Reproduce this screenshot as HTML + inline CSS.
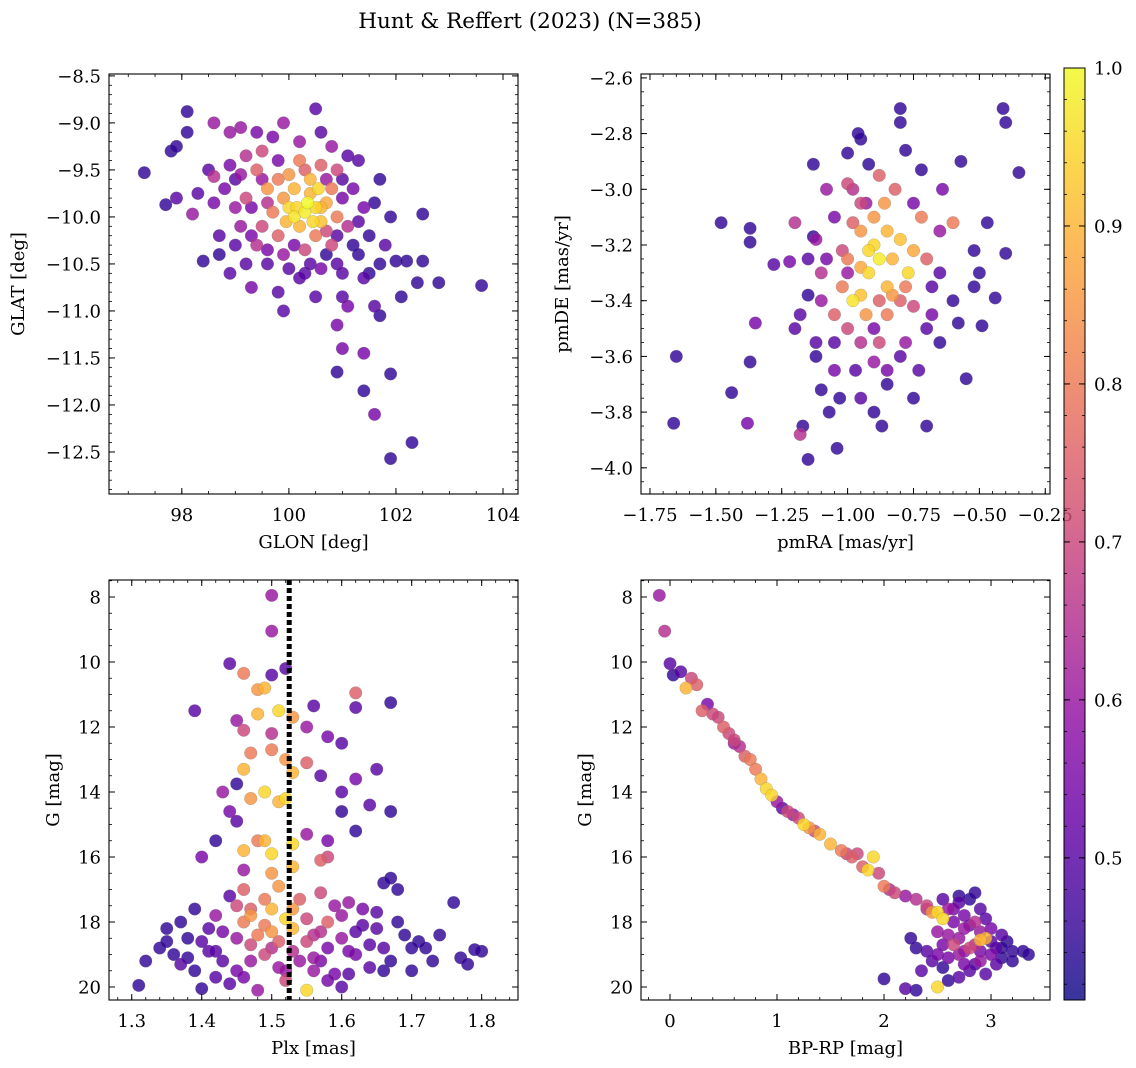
<!DOCTYPE html>
<html><head><meta charset="utf-8">
<style>
html,body{margin:0;padding:0;background:#fff;}
svg{display:block;font-family:"DejaVu Serif","Liberation Serif",serif;}
</style></head>
<body>
<svg id="fig" width="1136" height="1068" viewBox="0 0 1136 1068" xmlns="http://www.w3.org/2000/svg">
<defs>
<linearGradient id="plasma" x1="0" y1="1" x2="0" y2="0">
<stop offset="0" stop-color="#0d0887"/><stop offset="0.1" stop-color="#41049d"/><stop offset="0.2" stop-color="#6a00a8"/><stop offset="0.3" stop-color="#8f0da4"/><stop offset="0.4" stop-color="#b12a90"/><stop offset="0.5" stop-color="#cc4778"/><stop offset="0.6" stop-color="#e16462"/><stop offset="0.7" stop-color="#f2844b"/><stop offset="0.8" stop-color="#fca636"/><stop offset="0.9" stop-color="#fcce25"/><stop offset="1" stop-color="#f0f921"/>
</linearGradient>
</defs>
<text x="530" y="28" text-anchor="middle" font-size="21.5">Hunt &amp; Reffert (2023) (N=385)</text>
</svg>
<script>
// ---- data ----
const p1_glon=[97.3,97.8,98.1,98.1,97.9,97.7,98.2,97.9,98.4,98.3,98.6,98.7,98.6,98.9,99.1,99.4,99.7,99.9,100.5,100.6,101.3,101.7,101.9,102.0,102.2,102.5,102.5,102.4,102.8,103.6,102.1,101.6,101.7,101.5,101.4,101.0,101.1,100.9,101.0,100.9,101.4,101.6,101.9,101.9,102.3,101.4,99.9,99.8,99.3,98.9,99.2,100.5,100.3,100.0,99.6,100.7,101.2,101.5,101.8,101.3,101.6,101.0,101.1,100.0,100.3,100.5,100.4,100.1,100.6,99.9,100.2,100.7,100.4,100.0,99.6,99.7,100.8,100.9,100.5,99.8,99.4,99.5,100.2,100.6,100.9,99.2,99.1,99.0,99.4,100.8,101.1,100.3,99.9,100.6,100.9,99.5,98.9,99.2,98.8,98.7,99.0,100.2,100.8,101.2,101.4,100.1,100.35,100.55,99.95,
99.5,99.8,100.7,101.0,100.9,100.4,100.1,99.6,99.3,99.0,99.6,100.3,100.7,101.3,101.7,99.8,100.6,100.15,100.45,98.5,98.6,99.3,101.0,100.2,99.1];
const p1_glat=[-9.53,-9.3,-8.88,-9.1,-9.25,-9.87,-9.97,-9.8,-10.47,-9.75,-9.0,-10.4,-9.57,-9.1,-9.05,-9.1,-9.15,-9.0,-8.85,-9.1,-9.4,-9.6,-10.0,-10.47,-10.47,-9.97,-10.47,-10.7,-10.7,-10.73,-10.85,-10.95,-11.05,-10.6,-10.65,-10.85,-10.95,-11.15,-11.4,-11.65,-11.85,-12.1,-11.67,-12.57,-12.4,-11.45,-11.0,-10.8,-10.75,-10.6,-10.5,-10.85,-10.6,-10.55,-10.35,-10.4,-10.3,-10.2,-10.3,-10.05,-9.85,-9.6,-9.35,-9.9,-9.95,-9.9,-9.75,-9.7,-10.05,-9.8,-10.1,-9.85,-9.6,-9.55,-9.7,-9.95,-9.7,-10.0,-10.2,-10.2,-9.5,-9.3,-9.4,-9.45,-9.5,-9.8,-10.1,-9.9,-10.3,-10.3,-10.1,-10.35,-10.4,-10.55,-10.5,-10.1,-9.45,-9.35,-9.7,-10.2,-10.3,-9.2,-9.25,-9.7,-9.9,-10.0,-9.85,-9.7,-10.05,
-9.6,-9.4,-9.6,-9.8,-10.2,-10.5,-10.3,-10.5,-10.2,-9.6,-9.85,-9.5,-10.15,-10.4,-10.5,-9.6,-9.9,-9.9,-10.05,-9.5,-9.85,-9.9,-10.6,-10.65,-9.55];
const p1_prob=[.45,.45,.45,.45,.45,.45,.6,.5,.45,.5,.6,.45,.65,.6,.6,.55,.55,.6,.5,.5,.5,.45,.45,.45,.45,.45,.45,.45,.45,.45,.45,.5,.45,.45,.5,.5,.55,.55,.55,.45,.45,.55,.45,.45,.45,.55,.5,.5,.55,.5,.5,.5,.5,.5,.55,.45,.45,.45,.5,.5,.45,.5,.5,.95,.98,.95,.9,.9,.92,.85,.9,.88,.9,.85,.85,.8,.8,.8,.8,.75,.75,.7,.8,.75,.7,.7,.6,.6,.65,.7,.65,.7,.6,.55,.5,.7,.55,.65,.55,.5,.5,.6,.6,.55,.55,.97,1.0,.95,.9,
.6,.55,.6,.55,.5,.5,.55,.5,.55,.5,.65,.75,.7,.45,.45,.8,.9,.95,.95,.5,.55,.55,.5,.5,.6];

const p2_pmra=[-1.65,-1.66,-1.48,-1.44,-1.37,-1.37,-1.37,-1.38,-1.35,-1.28,-1.22,-1.2,-1.18,-1.17,-1.15,-1.13,-1.13,-1.1,-1.07,-1.04,-1.0,-0.95,-0.96,-0.92,-0.9,-0.8,-0.8,-0.78,-0.72,-0.7,-0.64,-0.6,-0.57,-0.55,-0.52,-0.52,-0.5,-0.49,-0.47,-0.44,-0.41,-0.4,-0.4,-0.35,-0.58,-0.65,-0.68,-0.73,-0.75,-0.85,-0.95,-1.05,-1.12,-1.15,-1.18,-1.1,-1.05,-1.08,-1.02,-0.98,-0.95,-0.9,-0.88,-0.92,-0.85,-0.95,-0.98,-0.83,-0.9,-0.86,-0.8,-0.77,-0.75,-0.95,-1.0,-1.02,-0.93,-0.85,-0.8,-0.75,-0.88,-0.95,-1.0,-1.05,-0.7,-0.72,-0.82,-0.98,-1.0,-0.9,-0.78,-0.68,-1.1,-1.12,-0.65,-0.88,-0.85,
-1.0,-0.9,-0.8,-1.05,-0.75,-0.85,-0.92,-0.95,-0.83,-1.08,-1.15,-0.7,-0.65,-0.97,-1.03,-0.87,-1.12,-0.78,-0.88,-0.93,-1.2,-0.6];
const p2_pmde=[-3.6,-3.84,-3.12,-3.73,-3.14,-3.19,-3.62,-3.84,-3.48,-3.27,-3.26,-3.12,-3.88,-3.85,-3.97,-2.91,-3.17,-3.72,-3.8,-3.93,-2.87,-2.82,-2.8,-2.91,-3.8,-2.71,-2.76,-2.86,-2.93,-3.85,-3.0,-3.12,-2.9,-3.68,-3.22,-3.35,-3.3,-3.49,-3.12,-3.39,-2.71,-2.76,-3.23,-2.94,-3.48,-3.55,-3.35,-3.65,-3.75,-3.7,-3.75,-3.65,-3.55,-3.38,-3.45,-3.4,-3.1,-3.0,-3.22,-3.0,-3.05,-3.2,-3.25,-3.3,-3.35,-3.38,-3.4,-3.25,-3.1,-3.05,-3.18,-3.3,-3.22,-3.15,-3.25,-3.35,-3.45,-3.45,-3.4,-3.42,-3.55,-3.55,-3.5,-3.45,-3.25,-3.1,-3.0,-3.12,-2.98,-3.62,-3.55,-3.45,-3.3,-3.18,-3.15,-2.95,-3.65,
-3.3,-3.5,-3.6,-3.55,-3.05,-3.15,-3.22,-3.28,-3.38,-3.25,-3.25,-3.5,-3.3,-3.65,-3.75,-3.85,-3.6,-3.35,-3.4,-3.05,-3.5,-3.4];
const p2_prob=[.45,.45,.45,.45,.45,.45,.45,.55,.55,.5,.55,.65,.65,.45,.45,.45,.45,.45,.45,.45,.45,.45,.45,.45,.45,.45,.45,.45,.45,.45,.55,.8,.45,.45,.45,.45,.45,.45,.45,.45,.45,.45,.45,.45,.45,.45,.5,.5,.45,.45,.5,.55,.5,.45,.5,.6,.55,.6,.7,.65,.7,.95,.98,.95,.9,.92,.97,.9,.85,.85,.92,.95,.88,.85,.8,.8,.85,.8,.75,.7,.7,.65,.7,.75,.75,.8,.75,.75,.7,.6,.6,.55,.65,.6,.6,.75,.55,
.6,.55,.5,.5,.55,.9,.95,.88,.85,.55,.5,.5,.5,.5,.45,.45,.45,.8,.75,.6,.5,.45];

const p3_plx=[1.5,1.5,1.5,1.52,1.44,1.46,1.48,1.49,1.62,1.56,1.62,1.39,1.67,1.51,1.53,1.48,1.45,1.46,1.5,1.55,1.58,1.6,1.5,1.47,1.52,1.46,1.53,1.55,1.57,1.62,1.65,1.45,1.49,1.52,1.51,1.47,1.43,1.44,1.6,1.64,1.6,1.67,1.45,1.42,1.48,1.53,1.5,1.49,1.46,1.55,1.58,1.62,1.4,1.46,1.5,1.53,1.58,1.57,1.66,1.67,1.31,1.32,1.34,1.35,1.36,1.37,1.38,1.39,1.4,1.41,1.42,1.43,1.44,1.45,1.46,1.47,1.48,1.49,1.5,1.5,1.51,1.52,1.53,1.54,1.55,1.55,1.56,1.57,1.58,1.59,1.6,1.61,1.62,1.63,1.64,1.65,1.66,1.67,1.68,1.69,1.7,1.71,1.72,1.73,1.74,1.76,1.77,1.78,1.8,1.79,1.48,1.44,1.52,1.58,1.6,1.42,1.45,1.47,1.53,1.57,1.6,1.63,1.49,1.51,1.46,1.4,1.37,1.56,1.65,1.5,1.47,1.54,
1.35,1.38,1.41,1.43,1.45,1.47,1.49,1.51,1.53,1.55,1.56,1.58,1.59,1.61,1.62,1.64,1.66,1.68,1.7,1.52,1.46,1.42,1.39,1.57,1.61];
const p3_g=[7.95,9.05,10.4,10.2,10.05,10.35,10.85,10.8,10.95,11.35,11.4,11.5,11.25,11.5,11.7,11.6,11.8,12.1,12.2,12.0,12.3,12.5,12.7,12.8,13.0,13.3,13.4,13.1,13.5,13.6,13.3,13.75,14.0,14.2,14.3,14.2,14.0,14.6,14.0,14.4,14.6,14.6,14.9,15.5,15.5,15.6,15.9,15.5,15.8,15.3,15.5,15.2,16.0,16.4,16.5,16.3,16.0,16.1,16.8,16.65,19.95,19.2,18.8,18.2,19.0,19.3,18.5,17.6,20.05,18.9,19.7,18.3,17.2,19.5,18.0,17.8,18.4,19.0,17.6,18.8,19.4,17.9,18.2,17.3,18.6,20.1,19.1,17.1,18.0,19.6,18.5,17.4,19.0,18.1,19.4,17.7,18.8,19.2,17.0,18.4,19.5,18.6,18.8,19.2,18.4,17.4,19.1,19.3,18.9,18.85,20.1,19.9,19.8,19.8,20.0,17.8,17.5,19.2,18.9,18.3,17.8,17.6,17.3,16.9,17.0,18.6,18.0,19.5,18.2,18.3,18.7,19.2,
18.6,19.1,18.2,19.2,18.5,17.6,18.1,18.6,17.6,17.9,18.4,18.8,17.5,18.9,18.3,18.7,19.5,18.0,18.8,19.5,19.7,18.9,19.5,19.2,19.6];
const p3_prob=[.6,.6,.5,.5,.5,.8,.85,.9,.75,.5,.5,.5,.45,.95,.85,.9,.6,.7,.65,.6,.55,.5,.8,.8,.85,.9,.9,.75,.5,.55,.5,.45,.95,.95,.9,.85,.6,.55,.5,.5,.45,.45,.5,.45,.8,.95,.95,.9,.9,.6,.55,.45,.55,.6,.85,.9,.7,.75,.45,.45,.45,.45,.45,.45,.45,.5,.45,.45,.45,.5,.5,.55,.5,.55,.8,.85,.8,.7,.9,.65,.6,.95,.9,.75,.7,.95,.6,.7,.75,.55,.6,.6,.55,.5,.5,.5,.5,.45,.45,.45,.45,.45,.45,.45,.45,.45,.45,.45,.45,.45,.6,.5,.7,.55,.5,.6,.7,.6,.65,.65,.6,.55,.8,.85,.75,.5,.45,.6,.5,.85,.7,.6,
.45,.45,.5,.5,.6,.75,.8,.75,.85,.7,.65,.55,.6,.55,.5,.5,.45,.45,.45,.6,.55,.5,.45,.55,.5];

const p4_bprp=[-0.1,-0.05,0.0,0.03,0.1,0.15,0.2,0.25,0.3,0.35,0.45,0.5,0.55,0.6,0.65,0.7,0.75,0.8,0.85,0.9,0.95,1.0,1.05,1.1,1.2,1.25,1.3,1.4,1.5,1.6,1.7,1.75,1.8,1.85,1.9,1.95,2.0,2.05,2.1,2.2,2.3,2.4,2.5,2.55,2.6,2.7,2.75,2.8,2.85,2.9,2.95,3.0,3.05,3.1,3.15,3.2,3.3,3.35,2.6,2.65,2.7,2.75,2.8,2.9,2.95,3.0,2.55,2.5,2.45,2.4,2.3,2.25,2.2,2.3,2.5,2.0,2.85,2.75,2.65,3.05,3.1,2.7,2.85,2.55,2.45,2.9,2.8,2.6,2.35,2.7,
2.7,2.8,2.9,3.0,2.6,2.75,2.85,3.1,2.65,2.95,2.5,2.4,3.2,2.55,2.9,1.15,0.4,0.6,1.35,1.65];
const p4_g=[7.95,9.05,10.05,10.4,10.3,10.8,10.5,10.7,11.5,11.3,11.7,12.0,12.2,12.4,12.6,12.9,13.0,13.3,13.6,13.9,14.1,14.3,14.5,14.6,14.8,15.0,15.1,15.3,15.6,15.8,16.0,15.9,16.3,16.4,16.0,16.5,16.9,17.0,17.1,17.2,17.3,17.5,17.7,17.9,17.6,17.4,17.8,17.3,18.0,18.3,18.5,18.2,18.8,18.4,18.6,18.9,18.9,19.0,18.4,18.7,19.0,19.3,19.5,19.2,19.6,19.0,19.4,19.0,19.2,18.9,18.8,18.5,20.05,20.1,20.0,19.75,18.7,18.2,18.0,19.3,19.1,17.2,17.1,17.3,17.7,18.55,18.8,19.8,19.5,19.7,
18.5,18.1,18.9,18.6,19.1,18.9,19.3,18.8,17.6,17.9,18.3,17.6,19.2,18.7,17.6,14.7,11.6,12.5,15.2,15.9];
const p4_prob=[.6,.65,.5,.45,.5,.9,.7,.75,.75,.55,.7,.75,.7,.7,.65,.75,.8,.8,.9,.95,.95,.6,.5,.7,.7,.95,.85,.9,.9,.8,.75,.7,.75,.95,.95,.7,.8,.65,.7,.6,.65,.7,.95,.95,.6,.5,.55,.45,.65,.6,.9,.55,.5,.5,.45,.45,.45,.45,.6,.7,.6,.55,.5,.6,.5,.55,.45,.55,.5,.5,.45,.45,.5,.45,.95,.45,.65,.6,.55,.5,.45,.45,.45,.5,.85,.9,.7,.45,.5,.5,
.6,.55,.55,.5,.55,.6,.5,.45,.55,.5,.6,.65,.45,.55,.5,.6,.7,.6,.7,.7];

const cbTicks=[0.5,0.6,0.7,0.8,0.9,1.0];
const vmin=0.41, vmax=1.0;
const plxLine=1.525;

// ---- helpers ----
const NS='http://www.w3.org/2000/svg';
const svg=document.getElementById('fig');
const FS=18;
function mk(tag,attrs,parent){const e=document.createElementNS(NS,tag);for(const k in attrs)e.setAttribute(k,attrs[k]);(parent||svg).appendChild(e);return e;}
const stops=[[13,8,135],[65,4,157],[106,0,168],[143,13,164],[177,42,144],[204,71,120],[225,100,98],[242,132,75],[252,166,54],[252,206,37],[240,249,33]];
function plasma(v){let t=Math.max(0,Math.min(1,(v-vmin)/(vmax-vmin)))*10;const i=Math.min(9,Math.floor(t));const f=t-i;const a=stops[i],b=stops[i+1];return 'rgb('+a.map((c,k)=>Math.round(c+(b[k]-c)*f)).join(',')+')';}
function fmt(v,d){const s=v.toFixed(d);return s.startsWith('-')?'\u2212'+s.slice(1):s;}

function panel(cfg){
  const {name,x0,x1,y0,y1,xmin,xmax,ymin,ymax,invertY,xt,xmin_step,yt,ymin_step,xd,yd,xlabel,ylabel,xs,ys,ps}=cfg;
  const sx=v=>x0+(v-xmin)/(xmax-xmin)*(x1-x0);
  const sy=v=>invertY?(y0+(v-ymin)/(ymax-ymin)*(y1-y0)):(y1-(v-ymin)/(ymax-ymin)*(y1-y0));
  const g=mk('g',{});
  
  
  const clipId='clip-'+name;
  const cp=mk('clipPath',{id:clipId},g);mk('rect',{x:x0,y:y0,width:x1-x0,height:y1-y0},cp);
  const pts=mk('g',{'clip-path':'url(#'+clipId+')'},g);
  
  
  const idx=ps.map((p,i)=>i).sort((a,b)=>ps[a]-ps[b]);
  idx.forEach(i=>{
    const c=mk('circle',{cx:sx(xs[i]),cy:sy(ys[i]),r:6.3,fill:plasma(ps[i]),'fill-opacity':0.82,stroke:'#777','stroke-width':0.4,'stroke-opacity':0.6},pts);
    
    
  });
  if(cfg.extra)cfg.extra(g,sx,sy,clipId);
  const fr=mk('rect',{x:x0,y:y0,width:x1-x0,height:y1-y0,fill:'none',stroke:'#000','stroke-width':1.1},g);
  
  
  const lo=Math.min(xmin,xmax),hi=Math.max(xmin,xmax);
  for(let v=Math.ceil(lo/xmin_step-1e-6)*xmin_step;v<=hi+1e-9;v+=xmin_step){const X=sx(v);mk('line',{x1:X,x2:X,y1:y1,y2:y1-3,stroke:'#000','stroke-width':0.8},g);mk('line',{x1:X,x2:X,y1:y0,y2:y0+3,stroke:'#000','stroke-width':0.8},g);}
  xt.forEach(v=>{const X=sx(v);if(X<x0-1||X>x1+30)return;mk('line',{x1:X,x2:X,y1:y1,y2:y1-6,stroke:'#000','stroke-width':1},g);mk('line',{x1:X,x2:X,y1:y0,y2:y0+6,stroke:'#000','stroke-width':1},g);
    const t=mk('text',{x:X,y:y1+27,'text-anchor':'middle','font-size':FS},g);t.textContent=fmt(v,xd);});
  const ylo=Math.min(ymin,ymax),yhi=Math.max(ymin,ymax);
  for(let v=Math.ceil(ylo/ymin_step-1e-6)*ymin_step;v<=yhi+1e-9;v+=ymin_step){const Y=sy(v);mk('line',{x1:x0,x2:x0+3,y1:Y,y2:Y,stroke:'#000','stroke-width':0.8},g);mk('line',{x1:x1,x2:x1-3,y1:Y,y2:Y,stroke:'#000','stroke-width':0.8},g);}
  yt.forEach(v=>{const Y=sy(v);mk('line',{x1:x0,x2:x0+6,y1:Y,y2:Y,stroke:'#000','stroke-width':1},g);mk('line',{x1:x1,x2:x1-6,y1:Y,y2:Y,stroke:'#000','stroke-width':1},g);
    const t=mk('text',{x:x0-8,y:Y+6.5,'text-anchor':'end','font-size':FS},g);t.textContent=fmt(v,yd);});
  const xl=mk('text',{x:(x0+x1)/2,y:y1+54,'text-anchor':'middle','font-size':FS},g);xl.textContent=xlabel;
  
  
  const yx=cfg.ylabX;
  const yl=mk('text',{x:yx,y:(y0+y1)/2,'text-anchor':'middle','font-size':FS,transform:'rotate(-90 '+yx+' '+(y0+y1)/2+')'},g);yl.textContent=ylabel;
  
  
}

panel({name:'sky',x0:109,x1:518,y0:74,y1:494,xmin:96.64,xmax:104.28,ymin:-12.947,ymax:-8.48,xt:[98,100,102,104],xmin_step:0.5,yt:[-12.5,-12,-11.5,-11,-10.5,-10,-9.5,-9,-8.5],ymin_step:0.1,xd:0,yd:1,xlabel:'GLON [deg]',ylabel:'GLAT [deg]',ylabX:24,xs:p1_glon,ys:p1_glat,ps:p1_prob});
panel({name:'proper-motion',x0:641,x1:1050,y0:74,y1:494,xmin:-1.784,xmax:-0.232,ymin:-4.094,ymax:-2.586,xt:[-1.75,-1.5,-1.25,-1,-0.75,-0.5,-0.25],xmin_step:0.05,yt:[-4,-3.8,-3.6,-3.4,-3.2,-3,-2.8,-2.6],ymin_step:0.05,xd:2,yd:1,xlabel:'pmRA [mas/yr]',ylabel:'pmDE [mas/yr]',ylabX:568,xs:p2_pmra,ys:p2_pmde,ps:p2_prob});
panel({name:'parallax',x0:109,x1:518,y0:580,y1:1000,xmin:1.2675,xmax:1.8519,ymin:7.477,ymax:20.4,invertY:true,xt:[1.3,1.4,1.5,1.6,1.7,1.8],xmin_step:0.02,yt:[8,10,12,14,16,18,20],ymin_step:0.5,xd:1,yd:0,xlabel:'Plx [mas]',ylabel:'G [mag]',ylabX:59,xs:p3_plx,ys:p3_g,ps:p3_prob,
 extra:(g,sx,sy)=>{const X=sx(plxLine);const l=mk('line',{x1:X,x2:X,y1:580,y2:1000,stroke:'#000','stroke-width':5,'stroke-dasharray':'5,3'},g);}});
panel({name:'cmd',x0:641,x1:1050,y0:580,y1:1000,xmin:-0.271,xmax:3.551,ymin:7.477,ymax:20.4,invertY:true,xt:[0,1,2,3],xmin_step:0.2,yt:[8,10,12,14,16,18,20],ymin_step:0.5,xd:0,yd:0,xlabel:'BP-RP [mag]',ylabel:'G [mag]',ylabX:591,xs:p4_bprp,ys:p4_g,ps:p4_prob});

const cb=mk('g',{});


const cbX=1064,cbW=21,cbT=68,cbB=1000;
mk('rect',{x:cbX,y:cbT,width:cbW,height:cbB-cbT,fill:'url(#plasma)','fill-opacity':0.82},cb);
mk('rect',{x:cbX,y:cbT,width:cbW,height:cbB-cbT,fill:'none',stroke:'#000','stroke-width':1},cb);
const cy=v=>cbB-(v-vmin)/(vmax-vmin)*(cbB-cbT);
for(let v=0.42;v<=1.0001;v+=0.02){const Y=cy(v);mk('line',{x1:cbX+cbW,x2:cbX+cbW-3,y1:Y,y2:Y,stroke:'#000','stroke-width':0.8},cb);mk('line',{x1:cbX,x2:cbX+3,y1:Y,y2:Y,stroke:'#000','stroke-width':0.8},cb);}
cbTicks.forEach(v=>{const Y=cy(v);mk('line',{x1:cbX+cbW,x2:cbX+cbW-6,y1:Y,y2:Y,stroke:'#000','stroke-width':1},cb);mk('line',{x1:cbX,x2:cbX+6,y1:Y,y2:Y,stroke:'#000','stroke-width':1},cb);
  const t=mk('text',{x:cbX+cbW+9,y:Y+6.5,'font-size':FS},cb);t.textContent=v.toFixed(1);
  
  });
</script>
</body></html>
